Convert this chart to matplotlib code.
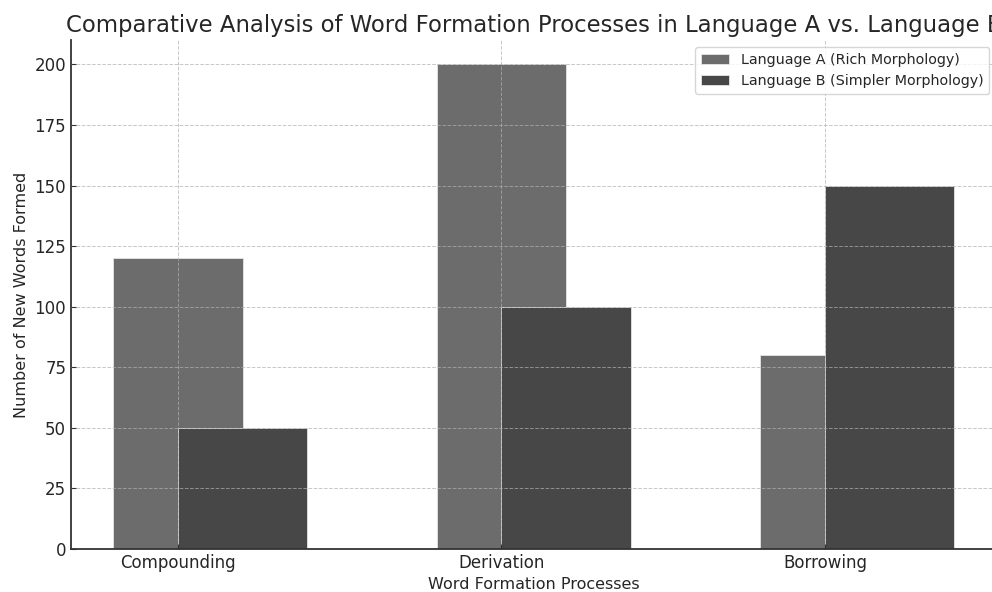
import numpy as np
import matplotlib.pyplot as plt

processes = ['Compounding', 'Derivation', 'Borrowing']
lang_a = [120, 200, 80]
lang_b = [50, 100, 150]

x = np.arange(len(processes))
width = 0.4
txt = '#262626'

fig = plt.figure(figsize=(9.92, 5.92), dpi=100)
ax = fig.add_axes([0.0716, 0.0726, 0.933, 0.8595])

ax.bar(x, lang_a, width, label='Language A (Rich Morphology)',
       color='#6c6c6c', edgecolor='#e6e6e6', linewidth=0.6, zorder=2)
ax.bar(x + width / 2, lang_b, width, label='Language B (Simpler Morphology)',
       color='#474747', edgecolor='#e6e6e6', linewidth=0.6, zorder=2)

ax.set_title('Comparative Analysis of Word Formation Processes in Language A vs. Language B',
             fontsize=16.4, color=txt)
ax.set_xlabel('Word Formation Processes', fontsize=11.5, color=txt)
ax.set_ylabel('Number of New Words Formed', fontsize=11.5, color=txt)
ax.set_xticks(x)
ax.set_xticklabels(processes)
ax.tick_params(direction='in', labelsize=12, labelcolor=txt, color='#333333')
ax.set_yticks(np.arange(0, 201, 25))

ax.grid(True, linestyle='--', color='#b0b0b0', linewidth=0.7, alpha=0.7, zorder=3)
ax.set_axisbelow(False)
for s in ['top', 'right']:
    ax.spines[s].set_visible(False)
for s in ['left', 'bottom']:
    ax.spines[s].set_linewidth(1.3)
    ax.spines[s].set_color('#333333')

leg = ax.legend(loc='upper right', fontsize=10.3, borderpad=0.4, handlelength=2.0,
                edgecolor='#cccccc', labelcolor=txt)

fig.savefig('out.png', dpi=100)
